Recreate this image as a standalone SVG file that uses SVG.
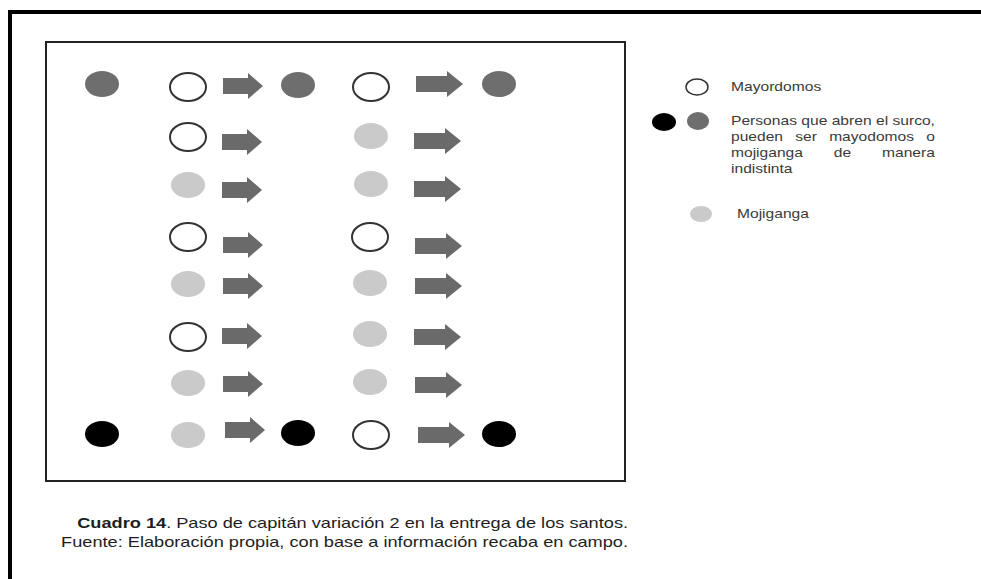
<svg xmlns="http://www.w3.org/2000/svg" xmlns:xlink="http://www.w3.org/1999/xlink" width="981" height="579" viewBox="0 0 981 579">
  <style>
    .dark { fill: #6e6e6e; }
    .black { fill: #000000; }
    .light { fill: #cacaca; }
    .white { fill: #ffffff; stroke: #333333; stroke-width: 2; }
    .arrow { fill: #6a6a6a; }
    .lg { font-family: "Liberation Sans", Arial, sans-serif; font-size: 12px; fill: #3a3a3a; }
    .cap { font-family: "Liberation Sans", Arial, sans-serif; font-size: 14px; fill: #1e1e1e; }
  </style>
  <defs>
    <path id="arrA" d="M0,-8 H25 V-13 L40,0 L25,13 V8 H0 Z"/>
    <path id="arrB" d="M0,-8 H31 V-13 L47,0 L31,13 V8 H0 Z"/>
  </defs>
  <rect width="981" height="579" fill="#ffffff"/>
  <!-- outer frame (continues beyond the picture) -->
  <rect id="frame" x="10" y="12" width="1000" height="600" fill="none" stroke="#000" stroke-width="4"/>
  <!-- inner box -->
  <rect id="box" x="46" y="42" width="579" height="439" fill="none" stroke="#222" stroke-width="2"/>

  <g id="nodes">
    <!-- row 1 -->
    <g id="r1c1"><ellipse class="dark" cx="102" cy="84" rx="17" ry="13"/></g>
    <g id="r1c2"><ellipse class="white" cx="188" cy="87" rx="18" ry="14"/></g>
    <g id="r1c3"><ellipse class="dark" cx="298" cy="85" rx="17" ry="13"/></g>
    <g id="r1c4"><ellipse class="white" cx="371" cy="87" rx="18" ry="14"/></g>
    <g id="r1c5"><ellipse class="dark" cx="499" cy="84" rx="17" ry="13"/></g>
    <!-- row 2 -->
    <g id="r2c2"><ellipse class="white" cx="188" cy="137" rx="18" ry="14"/></g>
    <g id="r2c4"><ellipse class="light" cx="371" cy="136" rx="17" ry="13"/></g>
    <!-- row 3 -->
    <g id="r3c2"><ellipse class="light" cx="188" cy="185" rx="17" ry="13"/></g>
    <g id="r3c4"><ellipse class="light" cx="371" cy="184" rx="17" ry="13"/></g>
    <!-- row 4 -->
    <g id="r4c2"><ellipse class="white" cx="188" cy="237" rx="18" ry="14"/></g>
    <g id="r4c4"><ellipse class="white" cx="370" cy="237" rx="18" ry="14"/></g>
    <!-- row 5 -->
    <g id="r5c2"><ellipse class="light" cx="188" cy="284" rx="17" ry="13"/></g>
    <g id="r5c4"><ellipse class="light" cx="370" cy="283" rx="17" ry="13"/></g>
    <!-- row 6 -->
    <g id="r6c2"><ellipse class="white" cx="188" cy="337" rx="18" ry="14"/></g>
    <g id="r6c4"><ellipse class="light" cx="370" cy="334" rx="17" ry="13"/></g>
    <!-- row 7 -->
    <g id="r7c2"><ellipse class="light" cx="188" cy="383" rx="17" ry="13"/></g>
    <g id="r7c4"><ellipse class="light" cx="370" cy="382" rx="17" ry="13"/></g>
    <!-- row 8 -->
    <g id="r8c1"><ellipse class="black" cx="102" cy="434" rx="17" ry="13"/></g>
    <g id="r8c2"><ellipse class="light" cx="188" cy="435" rx="17" ry="13"/></g>
    <g id="r8c3"><ellipse class="black" cx="298" cy="433" rx="17" ry="13"/></g>
    <g id="r8c4"><ellipse class="white" cx="371" cy="435" rx="18" ry="14"/></g>
    <g id="r8c5"><ellipse class="black" cx="499" cy="434" rx="17" ry="13"/></g>
  </g>

  <g id="connectors" class="arrow">
    <use xlink:href="#arrA" href="#arrA" x="223" y="86"/>
    <use xlink:href="#arrB" href="#arrB" x="416" y="84"/>
    <use xlink:href="#arrA" href="#arrA" x="222" y="142"/>
    <use xlink:href="#arrB" href="#arrB" x="414" y="141"/>
    <use xlink:href="#arrA" href="#arrA" x="222" y="190"/>
    <use xlink:href="#arrB" href="#arrB" x="414" y="189"/>
    <use xlink:href="#arrA" href="#arrA" x="223" y="245"/>
    <use xlink:href="#arrB" href="#arrB" x="415" y="246"/>
    <use xlink:href="#arrA" href="#arrA" x="223" y="286"/>
    <use xlink:href="#arrB" href="#arrB" x="415" y="286"/>
    <use xlink:href="#arrA" href="#arrA" x="222" y="336"/>
    <use xlink:href="#arrB" href="#arrB" x="414" y="337"/>
    <use xlink:href="#arrA" href="#arrA" x="223" y="384"/>
    <use xlink:href="#arrB" href="#arrB" x="415" y="385"/>
    <use xlink:href="#arrA" href="#arrA" x="225" y="430"/>
    <use xlink:href="#arrB" href="#arrB" x="418" y="435"/>
  </g>

  <g id="legend">
    <g id="leg-mayordomos">
      <ellipse class="white" cx="697" cy="87" rx="11" ry="8" style="stroke-width:1.5"/>
    </g>
    <g id="leg-personas">
      <ellipse class="black" cx="664" cy="122" rx="12" ry="9"/>
      <ellipse class="dark" cx="698" cy="121" rx="11" ry="9"/>
    </g>
    <g id="leg-mojiganga">
      <ellipse class="light" cx="701" cy="214" rx="11" ry="8"/>
    </g>
    <g transform="translate(731,0) scale(1.3,1)">
      <text class="lg" x="0" y="91" textLength="69.4" lengthAdjust="spacingAndGlyphs">Mayordomos</text>
      <text class="lg" x="0" y="125" textLength="156.9" lengthAdjust="spacingAndGlyphs">Personas que abren el surco,</text>
      <text class="lg" y="141"><tspan x="0">pueden</tspan><tspan x="49.4">ser</tspan><tspan x="75.5">mayodomos</tspan><tspan x="150.2">o</tspan></text>
      <text class="lg" y="157"><tspan x="0">mojiganga</tspan><tspan x="79.1">de</tspan><tspan x="116.2">manera</tspan></text>
      <text class="lg" x="0" y="173">indistinta</text>
      <text class="lg" x="4.6" y="218">Mojiganga</text>
    </g>
  </g>

  <g id="caption" transform="scale(1.3,1)">
    <text class="cap" x="483.1" y="528" text-anchor="end"><tspan font-weight="bold">Cuadro 14</tspan>. Paso de capitán variación 2 en la entrega de los santos.</text>
    <text class="cap" x="483.1" y="547" text-anchor="end">Fuente: Elaboración propia, con base a información recaba en campo.</text>
  </g>
</svg>
